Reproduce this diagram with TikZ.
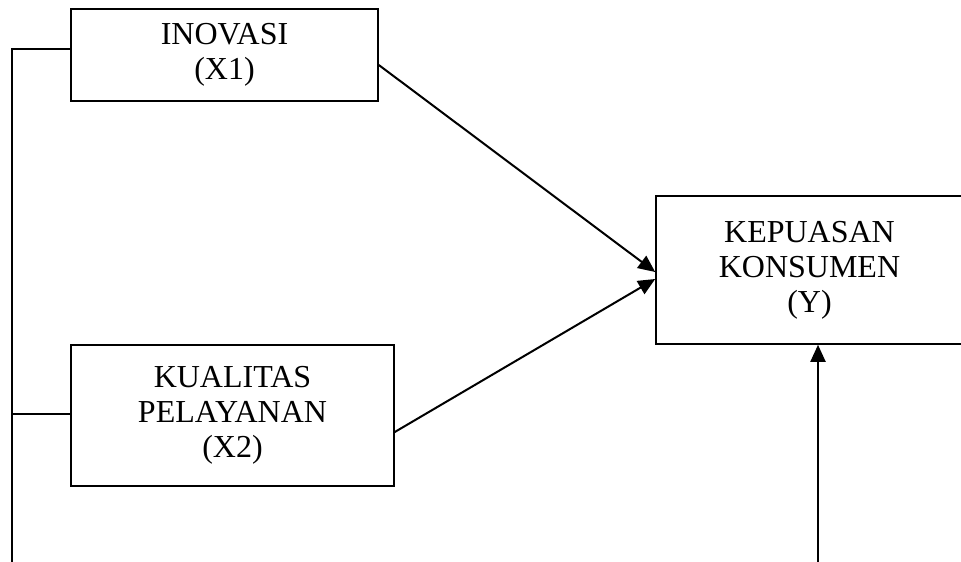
\documentclass[tikz,border=0pt]{standalone}
\usepackage{fontspec}
\setmainfont{Liberation Serif}
\usetikzlibrary{arrows.meta}
\begin{document}
\begin{tikzpicture}[x=1pt, y=-1pt,
  kotak/.style={draw, line width=1.6pt, rectangle, align=center, inner sep=0pt,
    font=\fontsize{32}{35}\selectfont},
  garis/.style={line width=1.8pt},
  panah/.style={line width=2pt, -{Triangle[length=17pt,width=15pt]}}]
  \useasboundingbox (0,0) rectangle (961,562);
  % variabel bebas
  \node[kotak, minimum width=307pt, minimum height=92pt] (X1) at (224.5,55) {INOVASI\\(X1)};
  \node[kotak, minimum width=323pt, minimum height=141pt] (X2) at (232.5,415.5) {KUALITAS\\PELAYANAN\\(X2)};
  % variabel terikat
  \node[kotak, minimum width=307pt, minimum height=148pt] (Y) at (809.5,270) {KEPUASAN\\KONSUMEN\\(Y)};
  % garis kiri
  \coordinate (kiri) at (12,562);
  \draw[garis] ([yshift=6pt]X1.west) -| (kiri);
  \draw[garis] ([yshift=1.5pt]X2.west) -- ([yshift=1.5pt]X2.west -| kiri);
  % panah
  \draw[panah] ([yshift=-10pt]X1.east) -- ([yshift=-2pt]Y.west);
  \draw[panah] ([yshift=-16.5pt]X2.east) -- ([yshift=-9pt]Y.west);
  \coordinate (bawah) at (818,562);
  \draw[panah] (bawah) -- (bawah |- Y.south);
\end{tikzpicture}
\end{document}
